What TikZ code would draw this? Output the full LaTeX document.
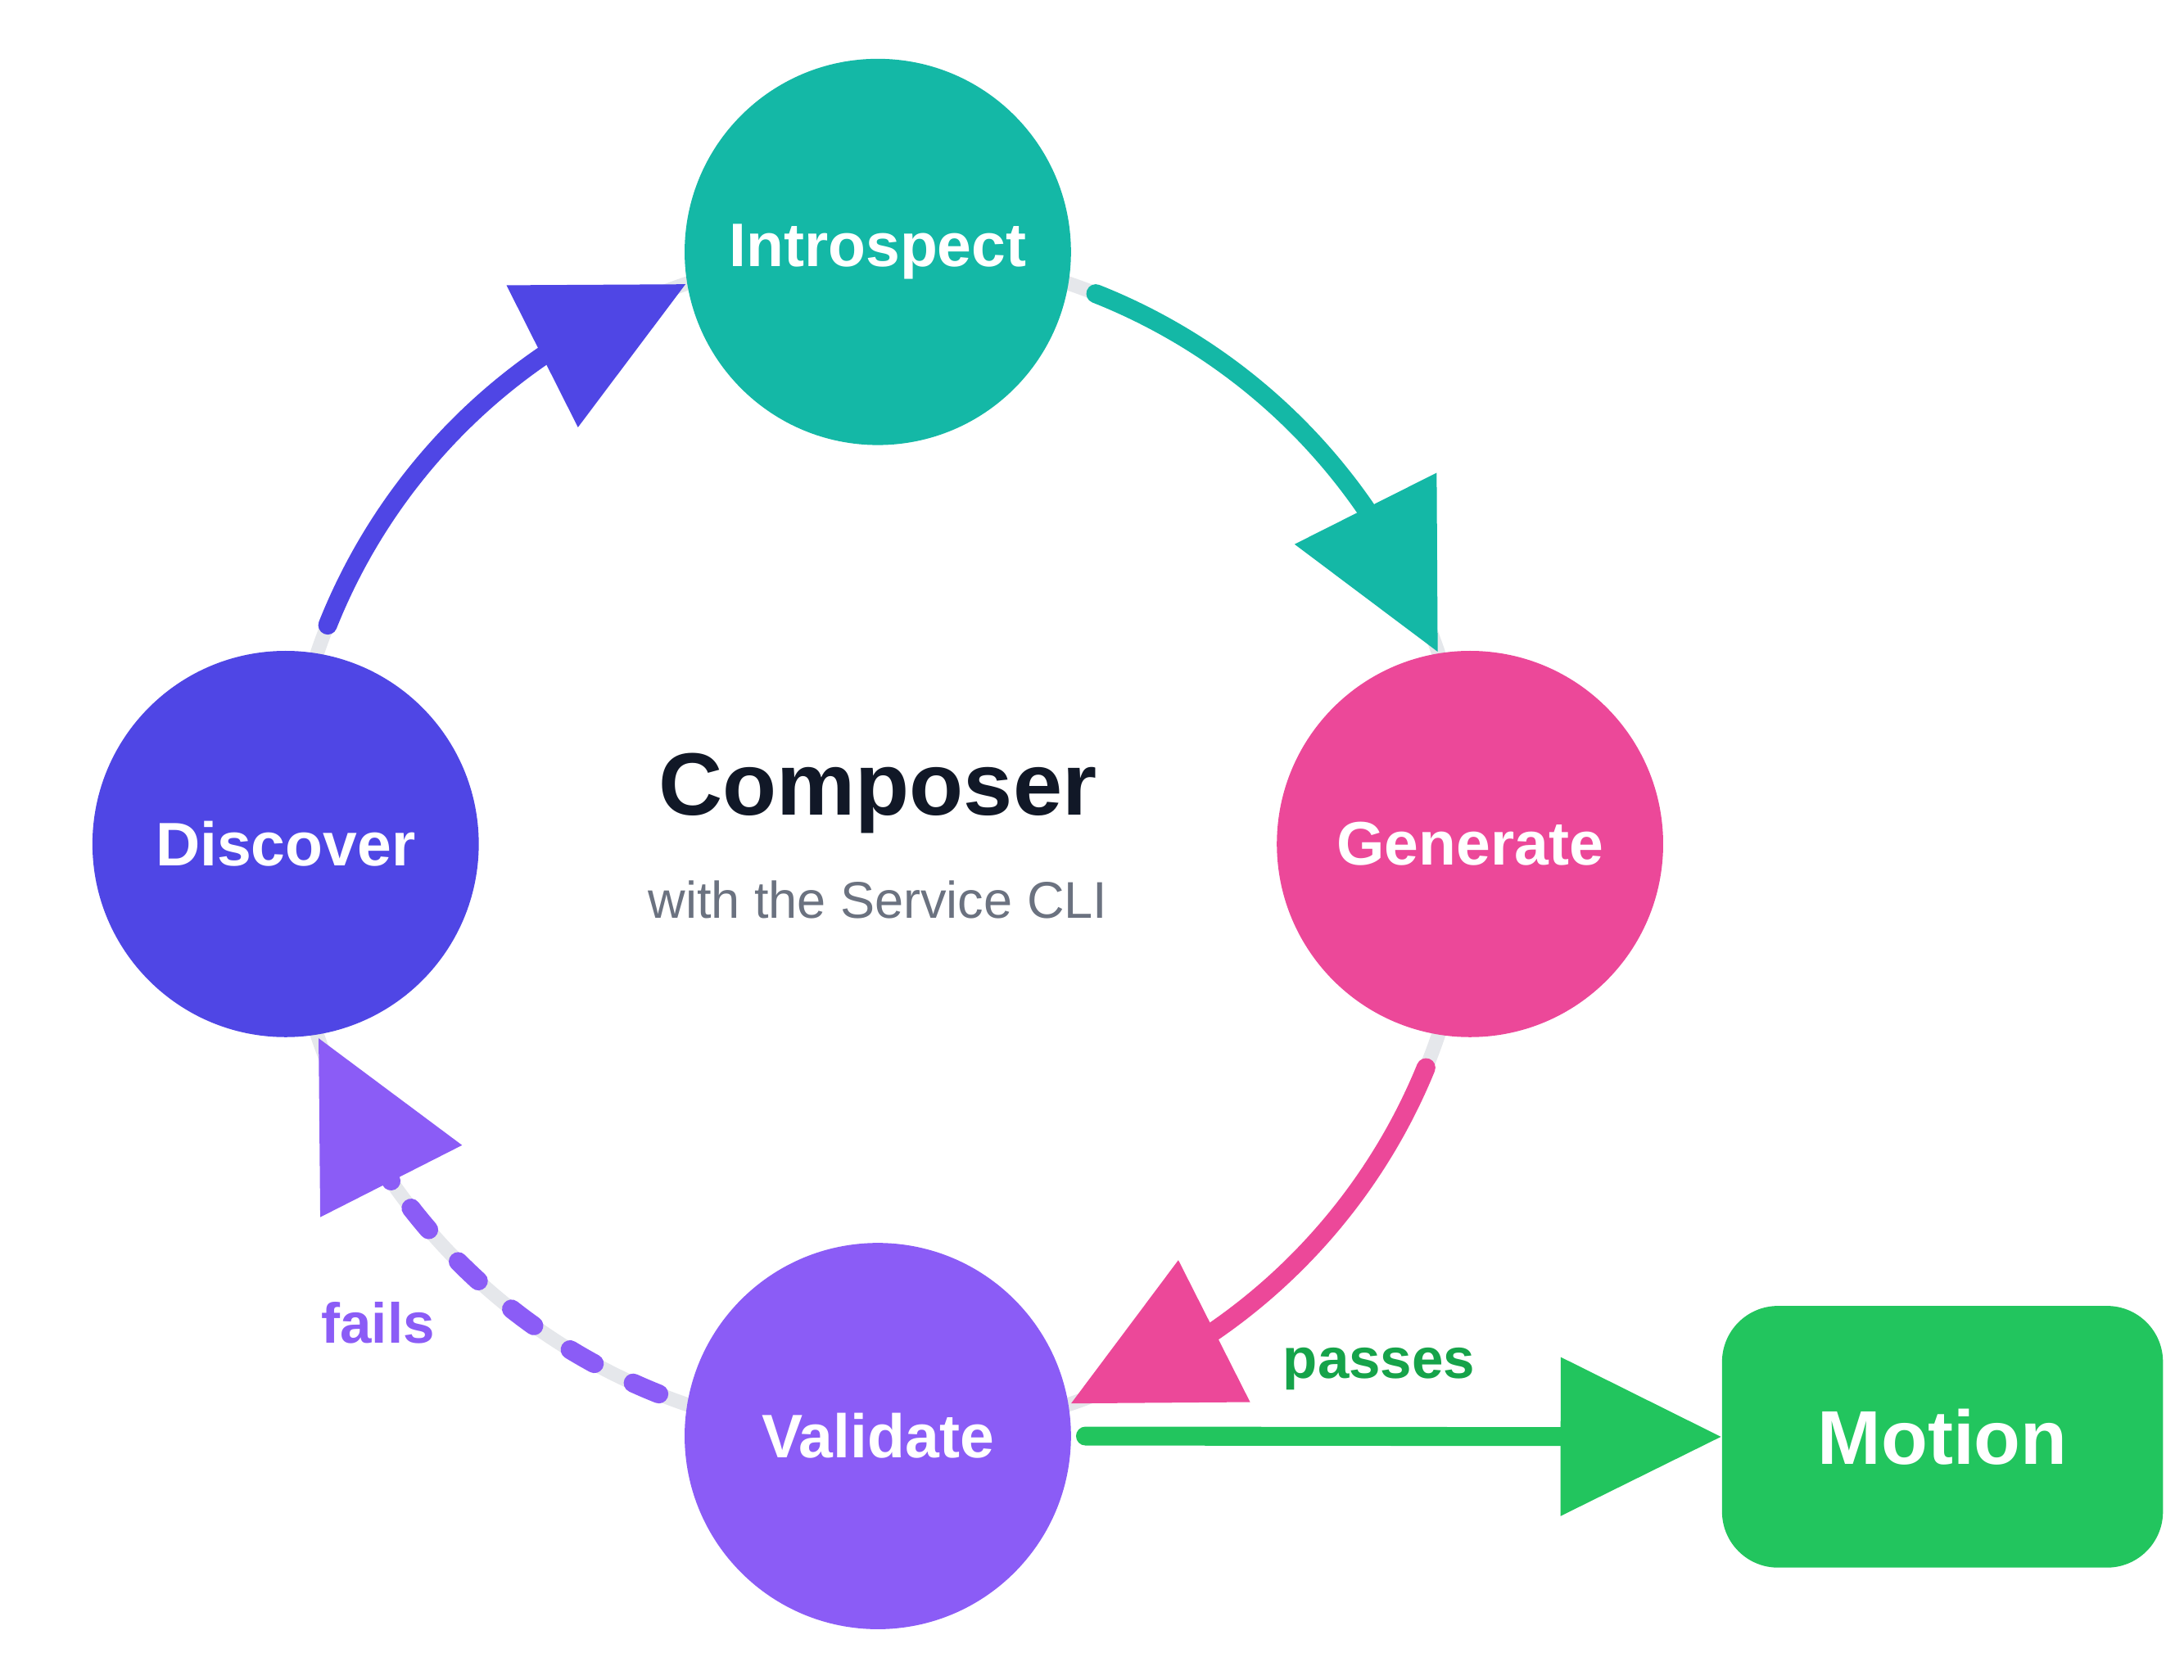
\documentclass[tikz,border=0pt]{standalone}
\usepackage{fontspec}
\setmainfont{Liberation Sans}
\usetikzlibrary{arrows.meta}
\definecolor{cteal}{HTML}{14B8A6}
\definecolor{cind}{HTML}{4F46E5}
\definecolor{cpink}{HTML}{EC4899}
\definecolor{cvio}{HTML}{8B5CF6}
\definecolor{cgreen}{HTML}{22C55E}
\definecolor{cdgreen}{HTML}{16A34A}
\definecolor{cring}{HTML}{E5E7EB}
\definecolor{cdark}{HTML}{111827}
\definecolor{cgray}{HTML}{6B7280}
\begin{document}
\begin{tikzpicture}[x=0.02cm,y=0.02cm,
  stage/.style={circle,minimum size=5.52cm,inner sep=0,text=white,font=\bfseries\fontsize{25}{28}\selectfont},
  flow/.style={line width=0.27cm,line cap=round,-{Triangle[length=2.3cm,width=2.2cm]}},
  lbl/.style={font=\bfseries\fontsize{23}{26}\selectfont}]
\useasboundingbox (0,0) rectangle (1560,1200);
\coordinate (c) at (627,597);
\draw[cring,line width=0.2cm] (c) circle[radius=8.46cm];
\path (c) ++(18.9:8.46cm) coordinate (t1);
\path (c) ++(108.9:8.46cm) coordinate (t2);
\path (c) ++(-71:8.46cm) coordinate (t3);
\path (c) ++(-160.9:8.46cm) coordinate (t4);
\draw[flow,cteal] (c) ++(68.4:8.46cm) arc[start angle=68.4,end angle=34.5,radius=8.46cm] -- (t1);
\draw[flow,cind] (c) ++(158.3:8.46cm) arc[start angle=158.3,end angle=124.5,radius=8.46cm] -- (t2);
\draw[flow,cpink] (c) ++(-22.2:8.46cm) arc[start angle=-22.2,end angle=-55.4,radius=8.46cm] -- (t3);
\draw[cvio,line width=0.27cm,line cap=round,dash pattern=on 0.4cm off 0.62cm] (c) ++(-111.7:8.46cm) arc[start angle=-111.7,end angle=-145.3,radius=8.46cm];
\draw[flow,cvio] (c) ++(-145.3:8.46cm) -- (t4);
\node[stage,fill=cteal] (intro) at (627,1020) {Introspect};
\node[stage,fill=cind] (disc) at (204,597) {Discover};
\node[stage,fill=cpink] (gen) at (1050,597) {Generate};
\node[stage,fill=cvio] (val) at (627,174) {Validate};
\node[rectangle,rounded corners=0.8cm,fill=cgreen,minimum width=6.3cm,minimum height=3.74cm,text=white,font=\bfseries\fontsize{31}{34}\selectfont] (motion) at (1387.5,173.5) {Motion};
\draw[flow,cgreen] (val.east) ++(10,0) coordinate (vs) (vs) -- (motion.west);
\node[lbl,text=cdgreen] (pl) at (985,222) {passes};
\node[lbl,text=cvio] (fl) at (270,255) {fails};
\node[font=\bfseries\fontsize{36}{40}\selectfont,text=cdark] (title) at (627,633) {Composer};
\node[font=\fontsize{21}{24}\selectfont,text=cgray] (sub) at (627,557) {with the Service CLI};
\end{tikzpicture}
\end{document}
